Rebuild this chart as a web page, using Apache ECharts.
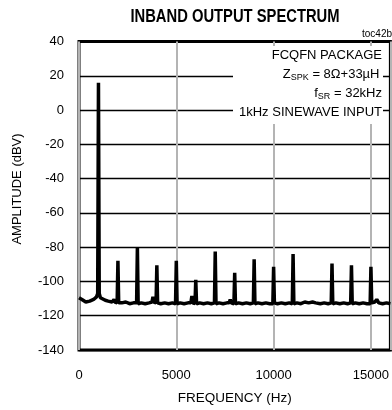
<!DOCTYPE html>
<html>
<head>
<meta charset="utf-8">
<script src="https://cdn.jsdelivr.net/npm/echarts@6/dist/echarts.min.js"></script>
<style>
  html, body { margin: 0; padding: 0; background: #fff; }
  #main { width: 392px; height: 410px; }
</style>
</head>
<body>
<div id="main"></div>
<script>
// noise floor (Hz, dBV)
var noiseFreq = [0, 80, 150, 250, 350, 450, 550, 650, 750, 850, 900, 960, 1040, 1100, 1200, 1350, 1500, 1700, 1800, 1850, 1960,
  2040, 2200, 2400, 2600, 2800, 2960, 3040, 3200, 3400, 3600, 3750, 3800, 3850, 3960, 4040, 4200, 4400, 4600, 4800, 4960,
  5040, 5200, 5400, 5600, 5750, 5800, 5850, 5960, 6040, 6200, 6400, 6600, 6800, 6960, 7040, 7200, 7400, 7600, 7720, 7770,
  7820, 7960, 8040, 8200, 8400, 8600, 8800, 8960, 9040, 9200, 9400, 9600, 9800, 9960, 10040, 10200, 10400, 10600, 10800,
  10960, 11040, 11200, 11400, 11600, 11800, 12000, 12080, 12160, 12400, 12600, 12800, 12960, 13040, 13200, 13400, 13600,
  13800, 13960, 14040, 14200, 14400, 14600, 14800, 14960, 15040, 15200, 15300, 15400, 15600, 15800, 16000];
var noiseLevel = [-109.5, -109, -110.5, -111.5, -112, -112, -111.5, -111, -110.5, -109.5, -109, -107, -107, -109.5, -110.5, -111, -111.5, -112, -110.5, -112, -112.5,
  -112.5, -112.5, -112, -113, -112.5, -112.5, -113, -112.5, -113, -112.5, -112, -109, -112, -112.5, -112.5, -113, -112.5, -113, -112.5, -113,
  -113, -112.5, -113, -112.5, -112.5, -108.5, -112.5, -113, -113, -112.5, -113, -112.5, -113, -112.5, -113, -112.5, -113, -112.5, -112.5, -110.5,
  -112.5, -113, -113, -112.5, -113, -112.5, -113, -112.5, -113, -112.5, -113, -112.5, -113, -113, -112.5, -113, -112.5, -113, -112.5,
  -113, -113, -112.5, -113, -112, -112.5, -112, -111.5, -112.5, -113, -112.5, -113, -112.5, -113, -112.5, -113, -112.5,
  -113, -112.5, -113, -112.5, -113, -112.5, -113, -113, -112.5, -112, -110.5, -112.5, -113, -112.5, -113];

// fundamental and harmonics (Hz, dBV)
var harmonicFreq = [1000, 2000, 3000, 4000, 5000, 6000, 7000, 8000, 9000, 10000, 11000, 13000, 14000, 15000];
var harmonicLevel = [16, -88, -80, -90.5, -88, -99, -82.5, -95, -87, -91.5, -84, -89.5, -90.5, -91.5];

var xTicks = [0, 5000, 10000, 15000];

var points = [];
noiseFreq.forEach(function (f, i) { points.push([f, noiseLevel[i]]); });
harmonicFreq.forEach(function (f, i) { points.push([f, harmonicLevel[i]]); });
points.sort(function (a, b) { return a[0] - b[0]; });

var myChart = echarts.init(document.getElementById('main'));
var font = 'Liberation Sans, Arial, sans-serif';

myChart.setOption({
  animation: false,
  textStyle: { fontFamily: font },
  grid: {
    left: 79, right: 1, top: 41.5, bottom: 58,
    show: true, borderColor: '#000', borderWidth: 3, backgroundColor: 'transparent'
  },
  xAxis: {
    type: 'value', min: 0, max: 16000, interval: 5000,
    name: 'FREQUENCY (Hz)', nameLocation: 'middle', nameGap: 41,
    nameTextStyle: { fontSize: 13.5, color: '#000', fontFamily: font },
    axisLine: { show: false }, axisTick: { show: false },
    axisLabel: {
      color: '#000', fontSize: 13, margin: 19, showMaxLabel: false,
      formatter: function (v) { return xTicks.indexOf(v) >= 0 ? String(v) : ''; }
    },
    splitLine: { show: true, lineStyle: { color: '#b4b4b4', width: 2 } }
  },
  yAxis: {
    type: 'value', min: -140, max: 40, interval: 20,
    axisLine: { show: false }, axisTick: { show: false },
    axisLabel: { color: '#000', fontSize: 13, margin: 15 },
    splitLine: { show: true, lineStyle: { color: '#000', width: 1.3 } }
  },
  graphic: {
    elements: [
      {
        type: 'text', x: 235, y: 17, scaleX: 0.82,
        style: { text: 'INBAND OUTPUT SPECTRUM', x: 0, y: 0, align: 'center', verticalAlign: 'middle',
          font: 'bold 18px ' + font, fill: '#000' }
      },
      {
        type: 'text', x: 392, y: 34,
        style: { text: 'toc42b', align: 'right', verticalAlign: 'middle', font: '10px ' + font, fill: '#000' }
      },
      {
        type: 'text', x: 17.5, y: 189, rotation: Math.PI / 2,
        style: { text: 'AMPLITUDE (dBV)', x: 0, y: 0, align: 'center', verticalAlign: 'middle',
          font: '13px ' + font, fill: '#000' }
      },
      {
        type: 'group', z: 100,
        children: [
          {
            type: 'rect', z: 100, shape: { x: 233, y: 46, width: 150, height: 78 },
            style: { fill: '#fff' }
          },
          {
            type: 'text', z: 101, x: 382, y: 55,
            style: { text: 'FCQFN PACKAGE', align: 'right', verticalAlign: 'middle', font: '13px ' + font, fill: '#000' }
          },
          {
            type: 'text', z: 101, x: 379.5, y: 74.5,
            style: {
              text: 'Z{sub|SPK} = 8Ω+33µH', align: 'right', verticalAlign: 'middle',
              font: '13px ' + font, fill: '#000',
              rich: { sub: { fontSize: 9, fontFamily: font, verticalAlign: 'bottom', padding: [6, 0, 0, 0] } }
            }
          },
          {
            type: 'text', z: 101, x: 382, y: 93.5,
            style: {
              text: 'f{sub|SR} = 32kHz', align: 'right', verticalAlign: 'middle',
              font: '13px ' + font, fill: '#000',
              rich: { sub: { fontSize: 9, fontFamily: font, verticalAlign: 'bottom', padding: [6, 0, 0, 0] } }
            }
          },
          {
            type: 'text', z: 101, x: 382, y: 112.7,
            style: { text: '1kHz SINEWAVE INPUT', align: 'right', verticalAlign: 'middle', font: '13px ' + font, fill: '#000' }
          }
        ]
      }
    ]
  },
  series: [
    {
      type: 'line',
      data: points,
      symbol: 'none',
      lineStyle: { color: '#000', width: 3.5 },
      z: 3
    }
  ]
});
</script>
</body>
</html>
